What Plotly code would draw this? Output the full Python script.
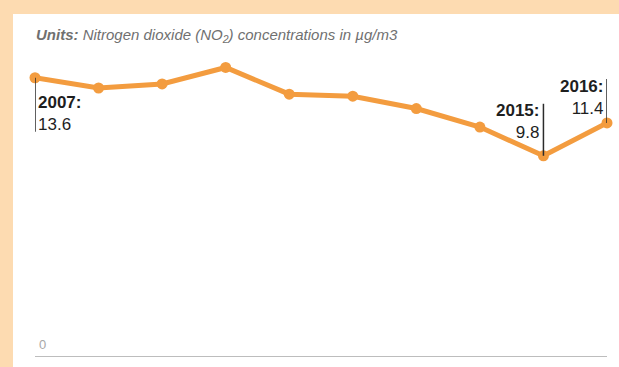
import plotly.graph_objects as go

# Annual mean NO2 concentrations
years = [2007, 2008, 2009, 2010, 2011, 2012, 2013, 2014, 2015, 2016]
no2 = [13.6, 13.1, 13.3, 14.1, 12.8, 12.7, 12.1, 11.2, 9.8, 11.4]

# Which points get a callout: (year, side of the text, vertical line length in px, text offset in px)
callouts = [
    (2007, "left", -54, -36),
    (2015, "right", 52, 34),
    (2016, "right", 44, 25),
]

ORANGE = "#F39C3F"
PEACH = "#FDDBB1"
FONT = "Liberation Sans, Arial, sans-serif"

W, H = 619, 367
ML, MR, MT, MB = 35, 12, 49, 10

fig = go.Figure()
fig.add_trace(go.Scatter(
    x=years, y=no2, mode="lines+markers",
    line=dict(color=ORANGE, width=5),
    marker=dict(color=ORANGE, size=11),
    cliponaxis=False, hoverinfo="skip", showlegend=False,
))

pw = W - ML - MR
ph = H - MT - MB

def px_x(p):
    return (p - ML) / pw

def px_y(p):
    return 1 - (p - MT) / ph

shapes = [
    # white card on the peach frame
    dict(type="rect", xref="paper", yref="paper", layer="below",
         x0=px_x(13), x1=px_x(W + 5), y0=px_y(14), y1=px_y(H + 5),
         fillcolor="white", line=dict(width=0)),
    # baseline
    dict(type="line", xref="paper", yref="y", x0=0, x1=1, y0=0, y1=0,
         line=dict(color="#BDBDBD", width=2)),
]

annotations = [
    dict(xref="paper", yref="paper", x=px_x(34), y=px_y(35), xanchor="left", yanchor="middle",
         showarrow=False,
         text="<b><i>Units:</i></b><i> Nitrogen dioxide (NO<sub>2</sub>) concentrations in µg/m3</i>",
         font=dict(family=FONT, size=15, color="#707070")),
    dict(xref="paper", yref="y", x=px_x(37), y=0, xanchor="left", yanchor="bottom",
         yshift=3, showarrow=False, text="0",
         font=dict(family=FONT, size=13, color="#A8A8A8")),
]

for yr, side, line_len, text_off in callouts:
    val = no2[years.index(yr)]
    shapes.append(dict(
        type="line", xref="x", yref="y", ysizemode="pixel", yanchor=val,
        x0=yr, x1=yr, y0=0, y1=line_len,
        line=dict(color="#2B2B2B", width=1.5),
    ))
    annotations.append(dict(
        xref="x", yref="y", x=yr, y=val, showarrow=False,
        xanchor="left" if side == "left" else "right",
        xshift=1 if side == "left" else -2,
        yanchor="middle", yshift=text_off,
        align=side,
        text=f"<b>{yr}:</b><br>{val}",
        font=dict(family=FONT, size=17, color="#1E1E1E"),
    ))

fig.update_layout(
    width=W, height=H,
    margin=dict(l=ML, r=MR, t=MT, b=MB),
    paper_bgcolor=PEACH, plot_bgcolor="rgba(0,0,0,0)",
    xaxis=dict(range=[2007, 2016], visible=False, fixedrange=True),
    yaxis=dict(range=[0, 15], visible=False, fixedrange=True),
    shapes=shapes, annotations=annotations,
)

fig.write_html("out.html")
